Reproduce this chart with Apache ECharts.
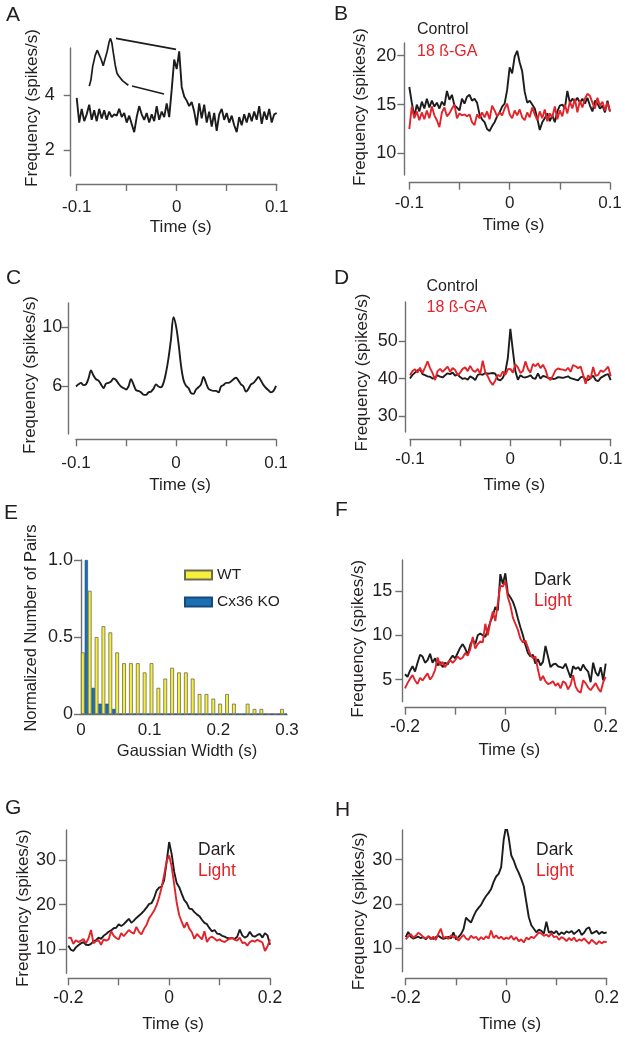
<!DOCTYPE html>
<html><head><meta charset="utf-8">
<script src="https://cdn.jsdelivr.net/npm/echarts@6/dist/echarts.min.js"></script>
<style>html,body{margin:0;padding:0;background:#fff}#c{width:625px;height:1040px}</style>
</head><body><div id="c"></div><script>
// ---------- DATA ----------
const T1 = [-0.1,-0.0975,-0.095,-0.0925,-0.09,-0.0875,-0.085,-0.0825,-0.08,-0.0775,-0.075,-0.0725,-0.07,-0.0675,-0.065,-0.0625,-0.06,-0.0575,-0.055,-0.0525,-0.05,-0.0475,-0.045,-0.0425,-0.04,-0.0375,-0.035,-0.0325,-0.03,-0.0275,-0.025,-0.0225,-0.02,-0.0175,-0.015,-0.0125,-0.01,-0.0075,-0.005,-0.0025,0,0.0025,0.005,0.0075,0.01,0.0125,0.015,0.0175,0.02,0.0225,0.025,0.0275,0.03,0.0325,0.035,0.0375,0.04,0.0425,0.045,0.0475,0.05,0.0525,0.055,0.0575,0.06,0.0625,0.065,0.0675,0.07,0.0725,0.075,0.0775,0.08,0.0825,0.085,0.0875,0.09,0.0925,0.095,0.0975,0.1];
const T2 = [-0.2,-0.195,-0.19,-0.185,-0.18,-0.175,-0.17,-0.165,-0.16,-0.155,-0.15,-0.145,-0.14,-0.135,-0.13,-0.125,-0.12,-0.115,-0.11,-0.105,-0.1,-0.095,-0.09,-0.085,-0.08,-0.075,-0.07,-0.065,-0.06,-0.055,-0.05,-0.045,-0.04,-0.035,-0.03,-0.025,-0.02,-0.015,-0.01,-0.005,0,0.005,0.01,0.015,0.02,0.025,0.03,0.035,0.04,0.045,0.05,0.055,0.06,0.065,0.07,0.075,0.08,0.085,0.09,0.095,0.1,0.105,0.11,0.115,0.12,0.125,0.13,0.135,0.14,0.145,0.15,0.155,0.16,0.165,0.17,0.175,0.18,0.185,0.19,0.195,0.2];

// Panel A
const A_freq = [3.9,3.0,3.5,3.05,3.3,3.65,3.1,3.45,3.05,3.5,3.15,3.45,3.1,3.4,3.2,3.3,3.25,3.5,3.2,3.35,3.0,3.25,2.95,2.65,3.2,3.6,3.3,3.1,3.35,3.0,3.3,3.05,3.6,3.1,3.4,3.2,3.7,3.2,4.2,5.3,4.95,5.6,4.3,3.95,3.8,3.6,3.75,3.4,2.9,3.7,3.15,3.65,3.0,3.4,2.85,3.35,2.7,3.3,3.5,3.1,3.35,3.0,3.25,2.9,2.65,3.2,2.9,3.3,3.0,3.35,3.05,3.4,3.1,3.6,2.95,3.4,3.1,3.5,3.0,3.3,3.35];
const A_insetT = [-0.0874,-0.0858,-0.084,-0.0815,-0.0795,-0.0775,-0.0755,-0.0735,-0.0715,-0.0695,-0.0675,-0.0662,-0.0648,-0.0634,-0.0615,-0.0597,-0.058,-0.056,-0.054,-0.0525,-0.0505,-0.0484];
const A_insetV = [4.33,4.55,5.05,5.45,5.64,5.58,5.3,5.07,5.12,5.6,5.95,6.07,5.9,5.55,5.1,4.8,4.7,4.65,4.52,4.45,4.42,4.36];
const A_connUpper = [[-0.0607,6.07],[-0.0007,5.67]];
const A_connLower = [[-0.0447,4.33],[-0.0127,4.04]];

// Panel B
const B_control = [16.8,15.2,13.8,15.0,14.3,15.3,14.6,15.6,14.7,15.4,14.8,15.2,14.6,15.3,14.9,16.4,15.5,16.0,14.9,14.7,14.4,15.6,15.1,15.8,16.0,15.4,15.6,15.2,14.0,13.5,13.2,12.5,12.3,12.8,13.2,13.8,14.2,14.8,15.1,16.5,18.8,18.2,19.9,20.5,19.3,18.4,16.3,15.2,15.4,15.0,14.6,13.6,12.4,13.2,13.6,14.1,13.3,13.9,13.2,14.3,14.9,15.0,14.6,16.4,15.2,15.6,15.3,15.7,15.2,15.6,15.1,15.7,14.9,14.3,15.4,15.1,14.6,14.9,14.2,15.4,14.3];
const B_ga = [12.5,14.8,13.6,14.3,13.4,14.2,13.5,14.4,13.6,14.8,13.9,13.4,12.7,14.2,14.7,13.8,14.1,14.6,15.0,13.6,14.1,13.9,14.0,13.8,14.0,13.2,12.9,14.0,13.6,14.2,13.7,14.3,13.5,14.9,14.4,13.8,14.2,13.9,14.6,15.1,14.0,13.6,14.4,13.9,14.5,13.7,13.4,14.2,13.7,14.7,14.0,13.4,14.3,13.6,14.5,13.3,14.1,13.7,14.8,13.5,14.4,13.8,15.0,14.1,15.3,14.6,15.6,14.2,15.4,14.7,15.6,16.1,15.9,15.2,14.6,15.7,14.9,15.3,14.4,15.2,14.3];

// Panel C
const C_freq = [5.95,6.1,6.2,6.05,6.1,6.5,7.05,6.7,6.45,6.35,6.1,5.85,6.15,6.2,6.3,6.5,6.4,6.15,5.95,5.85,5.75,5.95,6.45,6.1,5.7,5.65,5.55,5.4,5.38,5.55,5.6,5.8,6.1,5.95,5.9,6.2,6.9,7.9,9.2,10.7,10.1,8.9,7.4,6.4,6.0,5.85,5.5,5.45,5.75,5.9,6.1,6.6,6.2,5.8,5.7,5.65,5.65,5.55,5.95,6.05,6.2,6.2,6.3,6.45,6.55,6.35,6.1,5.95,5.6,5.8,6.1,6.2,6.4,6.6,6.35,6.05,5.85,5.7,5.55,5.65,6.0];

// Panel D
const D_control = [40.0,41.0,41.6,42.2,42.5,41.2,40.9,40.6,40.5,40.0,40.3,40.9,40.5,40.3,40.9,41.4,41.2,41.6,40.8,41.1,40.4,39.9,40.1,39.7,40.6,40.2,39.6,41.0,41.2,41.0,41.5,41.3,41.4,41.5,41.3,39.8,39.5,40.2,41.8,45.5,53.3,47.5,42.0,39.7,40.9,40.4,40.3,40.5,40.9,40.1,39.9,41.4,40.0,40.7,40.5,40.2,40.1,39.9,40.0,40.4,40.3,40.2,40.4,40.6,40.1,39.9,39.7,39.5,40.3,40.5,39.8,39.6,40.1,40.8,39.6,39.3,40.2,40.6,41.0,41.2,39.6];
const D_ga = [40.9,42.0,42.5,41.6,42.9,41.5,43.0,44.6,42.8,41.5,39.6,42.0,42.6,41.8,42.5,43.2,41.8,42.8,42.3,40.9,41.6,42.6,43.0,42.0,43.4,42.2,41.8,42.6,41.2,44.8,41.7,40.6,39.2,38.3,39.5,41.0,40.6,41.9,41.0,42.5,42.6,41.6,43.8,43.0,41.5,42.0,44.6,42.6,41.6,43.9,43.3,44.1,42.8,43.7,42.4,40.2,39.6,40.8,42.2,42.7,42.5,42.4,42.1,42.9,41.8,43.6,43.3,42.8,43.2,41.1,38.6,40.9,40.0,43.1,40.7,41.0,42.2,41.8,42.4,43.2,40.6];

// Panel E (histogram, bins of 0.01 s)
const E_bins = ['0.005','0.015','0.025','0.035','0.045','0.055','0.065','0.075','0.085','0.095','0.105','0.115','0.125','0.135','0.145','0.155','0.165','0.175','0.185','0.195','0.205','0.215','0.225','0.235','0.245','0.255','0.265','0.275','0.285','0.295'];
const E_wt = [0.40,0.80,0.50,0.57,0.53,0.40,0.33,0.33,0.33,0.27,0.33,0.17,0.23,0.30,0.27,0.27,0.23,0.13,0.13,0.10,0.067,0.13,0.067,0,0.067,0.033,0.033,0,0,0.033];
const E_ko = [1.0,0.17,0.067,0.067,0.033,0,0,0,0,0,0,0,0,0,0,0,0,0,0,0,0,0,0,0,0,0,0,0,0,0];

// Panel F
const F_dark = [5.6,5.3,6.0,6.5,5.9,6.9,7.8,7.6,6.9,7.2,7.9,6.9,7.4,6.6,7.0,6.4,6.9,6.7,7.3,7.7,7.4,8.0,8.6,9.0,8.5,7.8,8.9,9.5,9.0,10.0,10.2,10.0,9.8,10.6,11.5,12.2,13.2,12.8,16.9,15.8,17.0,14.7,14.3,13.8,13.0,11.9,10.9,10.0,8.9,8.0,7.6,7.8,6.8,7.3,6.6,7.0,8.8,7.6,6.4,6.7,6.8,6.5,6.4,6.3,6.8,6.0,5.2,6.5,6.2,6.4,6.0,6.7,6.2,5.9,4.7,6.9,5.8,5.4,6.4,4.9,6.8];
const F_light = [4.0,4.6,5.1,5.5,4.9,4.5,5.2,4.9,5.3,5.7,5.0,5.4,6.1,7.5,6.6,7.0,6.4,6.9,7.2,6.9,7.2,7.6,7.3,7.5,8.0,7.7,8.4,9.8,8.5,9.0,9.3,9.2,11.3,10.0,11.5,12.7,11.6,13.6,15.6,15.5,16.1,14.3,13.4,12.0,11.3,10.6,9.6,9.2,9.4,8.6,7.8,7.4,7.6,6.1,4.9,5.4,4.8,4.5,4.6,4.8,4.3,4.6,4.0,4.8,4.6,3.9,4.4,5.5,4.2,3.7,3.5,4.9,4.6,4.1,3.8,4.2,4.6,4.0,3.6,4.7,5.3];

// Panel G
const G_dark = [10.8,9.9,9.6,10.4,10.9,11.3,11.6,11.0,10.9,11.2,11.8,12.0,12.6,12.3,13.0,13.4,13.9,14.2,14.7,14.8,15.6,15.2,15.6,16.2,16.8,15.9,16.4,17.0,17.5,18.0,18.6,19.3,20.1,20.3,21.4,23.1,23.8,24.0,25.4,29.5,34.0,31.3,27.3,24.8,23.9,22.4,21.0,20.3,19.1,19.0,18.3,17.8,17.4,16.6,15.9,15.6,14.7,14.0,14.3,13.5,13.4,13.0,12.8,12.5,12.4,12.5,12.3,12.8,14.4,13.1,12.6,12.9,13.9,13.0,12.8,13.2,13.4,12.6,13.6,13.1,11.0];
const G_light = [12.5,12.6,11.2,12.0,11.6,11.9,12.3,11.3,12.4,14.3,11.3,11.8,12.0,11.0,12.2,11.9,12.2,14.0,13.0,12.5,12.2,13.6,12.9,13.6,14.3,13.8,13.5,15.0,13.9,13.3,14.5,15.4,16.9,17.7,18.6,19.8,21.6,23.8,26.6,29.8,31.0,28.5,24.5,20.4,17.6,16.1,14.8,16.0,14.6,13.8,12.3,13.4,12.8,12.2,14.0,11.6,12.5,12.8,12.4,11.9,12.2,11.8,11.6,12.0,12.4,12.5,12.1,11.9,12.6,11.4,11.5,10.8,11.6,11.9,11.7,12.1,11.8,11.5,9.6,10.6,12.2];

// Panel H
const H_dark = [12.5,13.7,12.6,12.2,12.4,12.6,12.3,12.5,12.0,12.7,12.3,12.1,12.5,12.8,12.4,12.1,12.3,12.6,12.2,13.6,12.0,12.5,13.2,14.3,16.9,16.3,15.8,17.2,18.4,19.1,19.8,20.9,21.8,22.5,23.4,25.0,26.2,26.8,28.3,34.5,37.7,35.0,31.0,29.8,28.2,27.0,25.6,24.0,20.5,17.0,15.2,14.4,13.6,14.2,13.9,13.3,16.0,13.5,13.8,13.4,13.9,13.0,13.6,13.2,13.8,13.5,13.9,13.2,13.7,14.2,13.0,13.5,14.4,14.7,13.3,13.6,13.9,13.2,13.7,13.4,13.6];
const H_light = [12.0,12.6,13.2,12.4,12.8,13.5,13.1,12.5,12.2,12.7,12.0,12.6,11.9,13.3,14.4,12.3,12.6,12.1,12.9,12.4,12.8,11.7,12.4,13.0,12.2,11.9,12.8,12.3,12.6,11.8,12.5,12.0,12.7,12.2,14.0,12.3,12.9,12.2,12.6,12.0,12.4,12.1,12.8,11.9,12.5,11.6,12.0,11.3,12.4,12.0,12.6,12.3,12.9,13.6,13.3,12.8,13.1,12.6,13.4,12.5,12.7,11.9,12.5,12.2,11.6,12.3,11.8,12.4,11.5,12.0,11.7,12.2,11.6,11.0,11.9,11.4,10.9,11.6,11.1,11.5,11.3];

// Tick labels
const ticks01 = [-0.1,0,0.1];
const ticks02 = [-0.2,0,0.2];
const A_yticks = [2,4], B_yticks = [10,15,20], C_yticks = [6,10], D_yticks = [30,40,50];
const E_yticks = [0,0.5,1], E_xticks = [0,0.1,0.2,0.3];
const F_yticks = [5,10,15], G_yticks = [10,20,30], H_yticks = [10,20,30];

// ---------- STYLE / LAYOUT ----------
const FONT = '"Liberation Sans", Arial, Helvetica, sans-serif';
const AX = '#707070', TX = '#231f20', BLK = '#1c1c1c', RED = '#e2242a';
const YNAME = 'Frequency (spikes/s)';

const panels = [
  {id:'A', g:{left:76.7,top:48,width:200,height:128}, xr:[-0.1,0.1,0.05], xl:ticks01, yr:[1.05,5.72], yt:A_yticks, xoff:8, yoff:6, xm:15, xng:35, ym:16, yng:29, xfs:17, ypad:[0,0,0,8]},
  {id:'B', g:{left:409.3,top:43,width:200.7,height:132}, xr:[-0.1,0.1,0.05], xl:ticks01, yr:[7.8,21.3], yt:B_yticks, xoff:7.7, yoff:5, xm:12, xng:34, ym:8, yng:35, xfs:17, ypad:[0,0,0,4]},
  {id:'C', g:{left:76,top:303,width:200,height:131}, xr:[-0.1,0.1,0.05], xl:ticks01, yr:[2.7,11.67], yt:C_yticks, xoff:5.3, yoff:7.7, xm:16, xng:38, ym:6, yng:27, xfs:17, ypad:[0,13,0,0]},
  {id:'D', g:{left:410,top:302,width:200.7,height:130}, xr:[-0.1,0.1,0.05], xl:ticks01, yr:[25.7,60.5], yt:D_yticks, xoff:7.3, yoff:4.3, xm:12, xng:38, ym:8, yng:35, xfs:17, ypad:[0,11,0,0]},
  {id:'F', g:{left:405,top:560,width:200.7,height:141.7}, xr:[-0.2,0.2,0.1], xl:ticks02, yr:[2.5,18.5], yt:F_yticks, xoff:6, yoff:2.7, xm:10, xng:34, ym:10, yng:35, xfs:17.5, ypad:[0,16,0,0]},
  {id:'G', g:{left:68.3,top:830,width:201.7,height:143.3}, xr:[-0.2,0.2,0.1], xl:ticks02, yr:[4.6,36.7], yt:G_yticks, xoff:5, yoff:2.3, xm:11, xng:38, ym:10, yng:31, xfs:17.5, ypad:[0,13,0,0]},
  {id:'H', g:{left:405.7,top:830,width:201,height:141.7}, xr:[-0.2,0.2,0.1], xl:ticks02, yr:[4.7,36.7], yt:H_yticks, xoff:6.6, yoff:3.4, xm:11, xng:38, ym:10, yng:34, xfs:17.5, ypad:[0,21,0,0]}
];

const grids = [], xAxes = [], yAxes = [];
const lineAx = {show:true, onZero:false, lineStyle:{color:AX, width:1.4}};
const tickSt = {color:AX, width:1.4};
panels.forEach((p, i) => {
  grids.push(Object.assign({outerBoundsMode:'none', containLabel:false}, p.g));
  xAxes.push({gridIndex:i, type:'value', min:p.xr[0], max:p.xr[1], interval:p.xr[2], position:'bottom', offset:p.xoff,
    axisLine:lineAx, axisTick:{show:true, length:7, lineStyle:tickSt}, splitLine:{show:false},
    axisLabel:{customValues:p.xl, margin:p.xm, fontSize:p.xfs, color:TX, fontFamily:FONT},
    name:'Time (s)', nameLocation:'middle', nameGap:p.xng, nameTextStyle:{fontSize:17, color:TX, fontFamily:FONT, padding:[0,0,0,8]}});
  yAxes.push({gridIndex:i, type:'value', min:p.yr[0], max:p.yr[1], position:'left', offset:p.yoff,
    axisLine:lineAx, axisTick:{show:true, length:7, customValues:p.yt, lineStyle:tickSt}, splitLine:{show:false},
    axisLabel:{customValues:p.yt, margin:p.ym, fontSize:18, color:TX, fontFamily:FONT},
    name:YNAME, nameLocation:'middle', nameGap:p.yng, nameTextStyle:{fontSize:17, color:TX, fontFamily:FONT, padding:p.ypad}});
});
// Panel E grid + axes
const eG = grids.length;
grids.push({outerBoundsMode:'none', containLabel:false, left:81, top:560, width:206, height:154});
const eXcat = xAxes.length;
xAxes.push({gridIndex:eG, type:'category', data:E_bins, show:false, position:'bottom'});
const eXval = xAxes.length;
xAxes.push({gridIndex:eG, type:'value', min:0, max:0.3, interval:0.1, position:'bottom',
  axisLine:lineAx, axisTick:{show:false}, splitLine:{show:false},
  axisLabel:{customValues:E_xticks, margin:8, fontSize:17, color:TX, fontFamily:FONT},
  name:'Gaussian Width (s)', nameLocation:'middle', nameGap:29, nameTextStyle:{fontSize:16.5, color:TX, fontFamily:FONT, padding:[0,0,0,6]}});
const eY = yAxes.length;
yAxes.push({gridIndex:eG, type:'value', min:0, max:1, position:'left',
  axisLine:lineAx, axisTick:{show:true, length:7, customValues:E_yticks, lineStyle:tickSt}, splitLine:{show:false},
  axisLabel:{customValues:E_yticks, margin:8, fontSize:18, color:TX, fontFamily:FONT, formatter:v => v===0 ? '0' : v.toFixed(1)},
  name:'Normalized Number of Pairs', nameLocation:'middle', nameGap:41, nameTextStyle:{fontSize:16.5, color:TX, fontFamily:FONT, padding:[0,0,0,18]}});

const pair = (T, V) => T.map((t, k) => [t, V[k]]);
function line(idx, T, V, color, extra) {
  return Object.assign({type:'line', xAxisIndex:idx, yAxisIndex:idx, data:pair(T, V), showSymbol:false, symbol:'none',
    lineStyle:{color:color, width:1.9}, itemStyle:{color:color}, animation:false, silent:true}, extra||{});
}
const series = [
  line(0, T1, A_freq, BLK),
  Object.assign(line(0, A_insetT, A_insetV, BLK), {clip:false, lineStyle:{color:BLK, width:1.7}}),
  {type:'line', xAxisIndex:0, yAxisIndex:0, data:A_connUpper, clip:false, symbol:'none', lineStyle:{color:BLK, width:1.6}, animation:false, silent:true},
  {type:'line', xAxisIndex:0, yAxisIndex:0, data:A_connLower, clip:false, symbol:'none', lineStyle:{color:BLK, width:1.6}, animation:false, silent:true},
  line(1, T1, B_control, BLK), line(1, T1, B_ga, RED),
  line(2, T1, C_freq, BLK, {smooth:0.35}),
  line(3, T1, D_control, BLK), line(3, T1, D_ga, RED),
  line(4, T2, F_dark, BLK), line(4, T2, F_light, RED),
  line(5, T2, G_dark, BLK), line(5, T2, G_light, RED),
  line(6, T2, H_dark, BLK), line(6, T2, H_light, RED),
  {name:'WT', type:'bar', xAxisIndex:eXcat, yAxisIndex:eY, data:E_wt, barWidth:3.8, barGap:0,
    itemStyle:{color:'#f6ef3c', borderColor:'#6b6b50', borderWidth:0.8}, animation:false, silent:true},
  {name:'Cx36 KO', type:'bar', xAxisIndex:eXcat, yAxisIndex:eY, data:E_ko, barWidth:3.2, barGap:0,
    itemStyle:{color:'#1b70b5', borderColor:'#164a78', borderWidth:0.6}, animation:false, silent:true}
];

function lbl(x, y, s, color, size) {
  return {type:'text', x:x, y:y, silent:true, style:{text:s, fill:color, fontSize:size, fontFamily:FONT, align:'left', verticalAlign:'middle'}};
}
const graphics = [
  lbl(6, 15, 'A', TX, 21), lbl(334, 14, 'B', TX, 21), lbl(6, 278, 'C', TX, 21), lbl(334, 278, 'D', TX, 21),
  lbl(4, 513, 'E', TX, 21), lbl(335, 510, 'F', TX, 21), lbl(5, 808, 'G', TX, 21), lbl(335, 810, 'H', TX, 21),
  lbl(417, 30, 'Control', TX, 16), lbl(417, 52, '18 ß-GA', RED, 16),
  lbl(426.5, 286.5, 'Control', TX, 16), lbl(426.5, 308, '18 ß-GA', RED, 16),
  lbl(534, 580, 'Dark', TX, 17.5), lbl(534, 601, 'Light', RED, 17.5),
  lbl(198, 850, 'Dark', TX, 17.5), lbl(198, 871, 'Light', RED, 17.5),
  lbl(536, 850, 'Dark', TX, 17.5), lbl(536, 871, 'Light', RED, 17.5)
];

const chart = echarts.init(document.getElementById('c'), null, {renderer:'canvas'});
chart.setOption({
  backgroundColor:'#ffffff',
  animation:false,
  textStyle:{fontFamily:FONT},
  grid:grids, xAxis:xAxes, yAxis:yAxes, series:series,
  legend:[{data:['WT','Cx36 KO'], orient:'vertical', left:179, top:562, itemWidth:27, itemHeight:9, itemGap:11,
    icon:'rect', selectedMode:false, textStyle:{fontSize:15.5, color:TX, fontFamily:FONT}}],
  graphic:graphics
});
</script></body></html>
